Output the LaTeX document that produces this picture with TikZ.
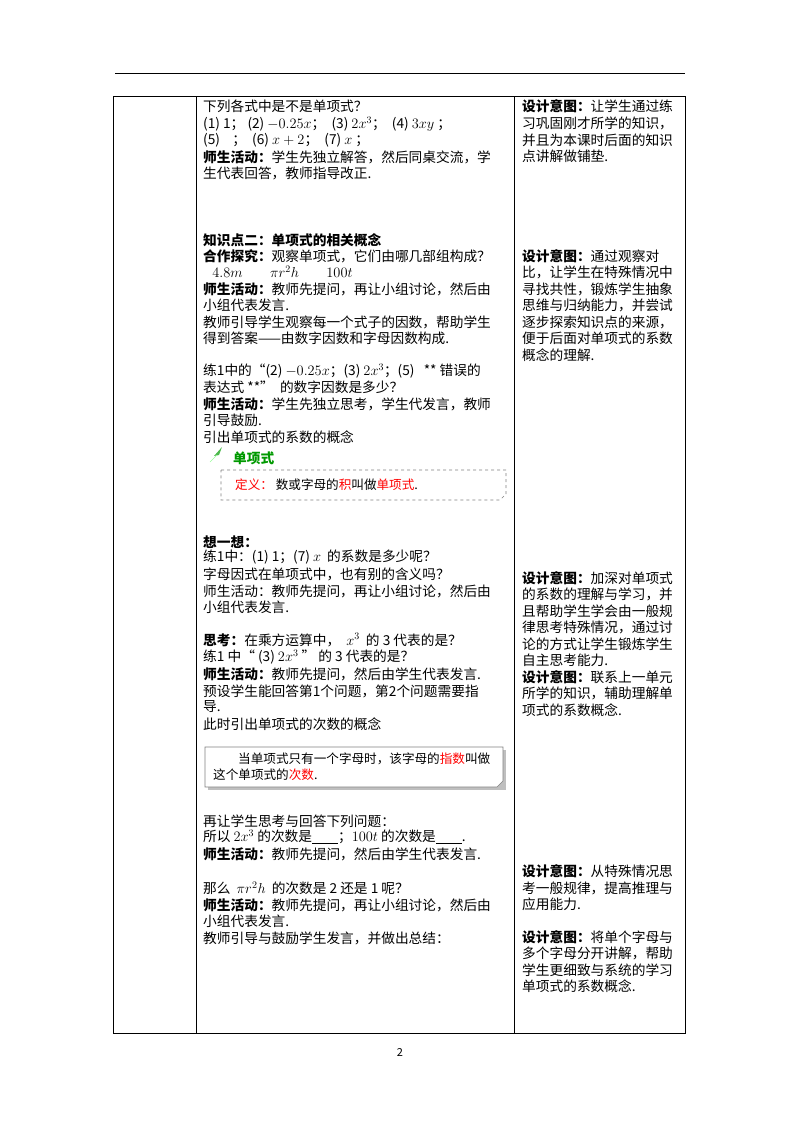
\documentclass[tikz,border=0pt]{standalone}
\usepackage{fontspec}
\setmainfont{Noto Sans CJK SC}
\begin{document}
\begin{tikzpicture}[x=1pt,y=-1pt,
  tl/.style={anchor=west,inner sep=0pt,font=\fontsize{13.7}{15}\selectfont},
  rl/.style={anchor=west,inner sep=0pt,font=\fontsize{13.7}{15}\selectfont},
  bx/.style={anchor=west,inner sep=0pt,font=\fontsize{12.6}{14}\selectfont},
  rule/.style={line width=0.6pt}]
\useasboundingbox (0,0) rectangle (800,1132);
\draw[rule] (115,73) -- (685,73);
\draw[rule] (113,96) rectangle (685,1033);
\draw[rule] (196,96) -- (196,1033);
\draw[rule] (514,96) -- (514,1033);
\node[font=\fontsize{11}{12}\selectfont] (pg) at (400,1052) {2};
% left column
\def\L#1#2{\node[tl] at (203,#1) {#2};}
\L{106}{下列各式中是不是单项式？}
\L{124}{(1)\ 1；\ (2)\ $-0.25x$；\ \ (3)\ $2x^3$；\ \ (4)\ $3xy$\ ；}
\L{140}{(5)\ \ \ \ ；\ \ \textit{(6)}\ $x+2$；\ \ (7)\ $x$\ ；}
\L{157}{\textbf{师生活动：}学生先独立解答，然后同桌交流，学}
\L{173}{生代表回答，教师指导改正.}
\L{240}{\textbf{知识点二：单项式的相关概念}}
\L{256}{\textbf{合作探究：}观察单项式，它们由哪几部组构成？}
\L{272}{\ \ \ $4.8m\qquad \pi r^2h\qquad 100t$}
\L{289}{\textbf{师生活动：}教师先提问，再让小组讨论，然后由}
\L{305}{小组代表发言.}
\L{322}{教师引导学生观察每一个式子的因数，帮助学生}
\L{338}{得到答案——由数字因数和字母因数构成.}
\L{371}{练1中的“(2)\ $-0.25x$；(3)\ $2x^3$；(5)\ \ \ **\ 错误的}
\L{387}{表达式\ **”\ \ 的数字因数是多少？}
\L{404}{\textbf{师生活动：}学生先独立思考，学生代发言，教师}
\L{420}{引导鼓励.}
\L{437}{引出单项式的系数的概念}
\fill[green!60!black!70] (214,456) -- (222,447) -- (219,455) -- cycle;
\draw[green!40, line width=0.5pt] (210,462) -- (217,455);
\node[tl,text=green!60!black,font=\fontsize{13.7}{15}\selectfont\bfseries] (dxs) at (233,458) {单项式};
\draw[gray,dashed,line width=0.6pt] (221,470) -- (506,470) -- (506,494) -- (500,500) -- (221,500) -- cycle;
\node[bx] (def) at (235,485) {\textcolor{red}{定义：}\ 数或字母的\textcolor{red}{积}叫做\textcolor{red}{单项式}.};
\L{542}{\textbf{想一想：}}
\L{557}{练1中：(1)\ 1；(7)\ $x$\ \ 的系数是多少呢？}
\L{574}{字母因式在单项式中，也有别的含义吗？}
\L{591}{师生活动：教师先提问，再让小组讨论，然后由}
\L{607}{小组代表发言.}
\L{640}{\textbf{思考：}在乘方运算中，\ \ $x^3$\ \ 的\ 3\ 代表的是？}
\L{657}{练1\ 中“\ (3)\ $2x^3$\ ”\ 的\ 3\ 代表的是？}
\L{674}{\textbf{师生活动：}教师先提问，然后由学生代表发言.}
\L{691}{预设学生能回答第1个问题，第2个问题需要指}
\L{707}{导.}
\L{724}{此时引出单项式的次数的概念}
\fill[gray!50] (208,750) rectangle (506,790);
\draw[gray,fill=white,line width=0.6pt] (205,747) -- (503,747) -- (503,781) -- (497,787) -- (205,787) -- cycle;
\node[bx] (t1) at (238,759) {当单项式只有一个字母时，该字母的\textcolor{red}{指数}叫做};
\node[bx] (t2) at (213,775) {这个单项式的\textcolor{red}{次数}.};
\L{821}{再让学生思考与回答下列问题：}
\L{837}{所以\ $2x^3$\ 的次数是\underline{\hspace{26pt}}；$100t$\ 的次数是\underline{\hspace{26pt}}.}
\L{854}{\textbf{师生活动：}教师先提问，然后由学生代表发言.}
\L{888}{那么\ \ $\pi r^2h$\ \ 的次数是\ 2\ 还是\ 1\ 呢？}
\L{905}{\textbf{师生活动：}教师先提问，再让小组讨论，然后由}
\L{921}{小组代表发言.}
\L{938}{教师引导与鼓励学生发言，并做出总结：}
% right column
\def\R#1#2{\node[rl] at (522,#1) {#2};}
\R{106}{\textbf{设计意图：}让学生通过练}
\R{123}{习巩固刚才所学的知识，}
\R{140}{并且为本课时后面的知识}
\R{156}{点讲解做铺垫.}
\R{256}{\textbf{设计意图：}通过观察对}
\R{272}{比，让学生在特殊情况中}
\R{289}{寻找共性，锻炼学生抽象}
\R{305}{思维与归纳能力，并尝试}
\R{322}{逐步探索知识点的来源，}
\R{338}{便于后面对单项式的系数}
\R{355}{概念的理解.}
\R{578}{\textbf{设计意图：}加深对单项式}
\R{594}{的系数的理解与学习，并}
\R{611}{且帮助学生学会由一般规}
\R{627}{律思考特殊情况，通过讨}
\R{644}{论的方式让学生锻炼学生}
\R{660}{自主思考能力.}
\R{677}{\textbf{设计意图：}联系上一单元}
\R{693}{所学的知识，辅助理解单}
\R{710}{项式的系数概念.}
\R{871}{\textbf{设计意图：}从特殊情况思}
\R{888}{考一般规律，提高推理与}
\R{904}{应用能力.}
\R{937}{\textbf{设计意图：}将单个字母与}
\R{953}{多个字母分开讲解，帮助}
\R{970}{学生更细致与系统的学习}
\R{986}{单项式的系数概念.}
\end{tikzpicture}
\end{document}
